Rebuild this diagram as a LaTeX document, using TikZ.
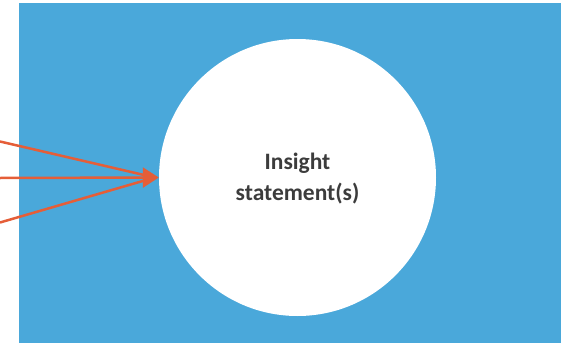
\documentclass[tikz,border=0pt]{standalone}
\usepackage{fontspec}
\setmainfont{Carlito}
\usetikzlibrary{arrows.meta,calc}
\definecolor{bgblue}{HTML}{4AA8DA}
\definecolor{arrorange}{HTML}{E55E38}
\definecolor{txtgray}{HTML}{3C3C3C}
\tikzset{
  feed/.style={draw=arrorange, line width=2.5pt},
  feedhead/.style={feed, -{Triangle[length=16pt,width=20pt]}}
}
\begin{document}
\begin{tikzpicture}[x=1pt,y=-1pt]
\useasboundingbox (0,0) rectangle (566,343);
\fill[bgblue] (19,3) rectangle (561,343);
\node[circle, fill=white, minimum size=277pt, inner sep=0pt] (insight) at (297.5,177.5) {};
\node[font=\fontsize{23.5}{31}\selectfont\bfseries, text=txtgray, align=center] (label) at (297.5,179) {Insight\\statement(s)};
\coordinate (s1) at (0,141.5);
\coordinate (s2) at (0,178);
\coordinate (s3) at (0,222.5);
\coordinate (tip) at (insight.west);
\draw[feed] (s1) -- ($(tip)+(-4,0)$);
\draw[feed] (s3) -- ($(tip)+(-4,0)$);
\draw[feedhead] (s2) -- (tip);
\end{tikzpicture}
\end{document}
